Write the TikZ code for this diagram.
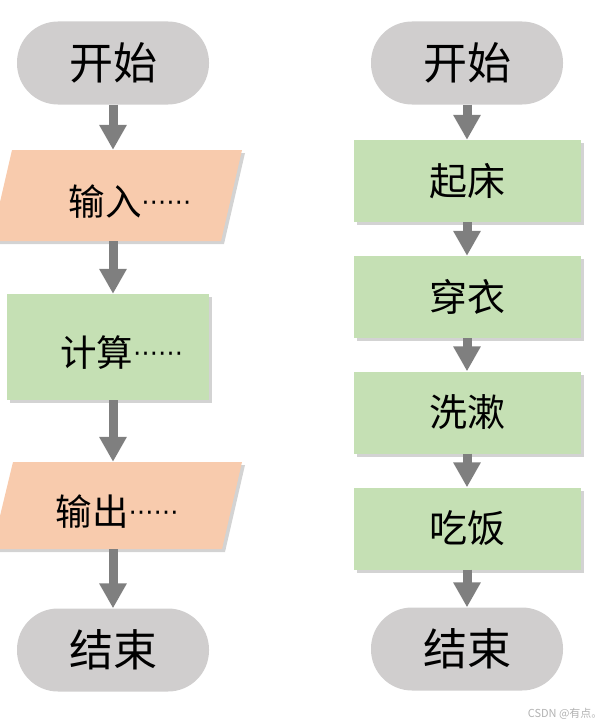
\documentclass[tikz,border=0pt]{standalone}
\usepackage{fontspec}
\setmainfont{Noto Sans CJK SC}
\newfontfamily\dotfont{DejaVu Sans}
\usetikzlibrary{arrows.meta,shadows}
\definecolor{termgray}{HTML}{D0CECE}
\definecolor{iorange}{HTML}{F8CBAD}
\definecolor{pgreen}{HTML}{C5E0B4}
\definecolor{arrgray}{HTML}{7F7F7F}
\newcommand{\dotsz}{\raisebox{5pt}{\dotfont\fontsize{25}{25}\selectfont ⋯⋯}}
\newcommand{\lowtxt}[1]{\raisebox{-6pt}[\height][\depth]{#1}}
\tikzset{
  term/.style={rectangle, rounded corners=41pt, fill=termgray, minimum width=192pt, minimum height=83pt, inner sep=0pt, font=\fontsize{44}{44}\selectfont},
  procbox/.style={rectangle, fill=pgreen, inner sep=0pt, drop shadow={opacity=0.35, shadow xshift=3pt, shadow yshift=-3pt}},
  iofill/.style={fill=iorange, drop shadow={opacity=0.35, shadow xshift=3pt, shadow yshift=-3pt}},
  iotext/.style={rectangle, inner sep=0pt, minimum width=200pt, font=\fontsize{36.5}{36.5}\selectfont},
  flowarrow/.style={draw=arrgray, line width=9pt, -{Triangle[width=26pt,length=25pt]}}
}
\begin{document}
\begin{tikzpicture}[x=1pt,y=-1pt]
\useasboundingbox (0,0) rectangle (614,725);
% left column
\node[term] (ls) at (113,63) {开始};
\path[iofill] (12,150) -- (242,150) -- (221,241) -- (-9,241) -- cycle;
\node[iotext, minimum height=91pt] (lin) at (116.5,195.5) {\lowtxt{\hspace*{27pt}输入\dotsz}};
\node[procbox, minimum width=202pt, minimum height=106pt, font=\fontsize{36.5}{36.5}\selectfont] (lcalc) at (108,347) {\lowtxt{\hspace*{27pt}计算\dotsz}};
\path[iofill] (13,462) -- (242,462) -- (222,549) -- (-8,549) -- cycle;
\node[iotext, minimum height=87pt] (lout) at (117,505.5) {\lowtxt{输出\dotsz}};
\node[term] (le) at (113,650) {结束};
\draw[flowarrow] (ls.south) -- (ls.south |- lin.north);
\draw[flowarrow] (ls.south |- lin.south) -- (ls.south |- lcalc.north);
\draw[flowarrow] (ls.south |- lcalc.south) -- (ls.south |- lout.north);
\draw[flowarrow] (ls.south |- lout.south) -- (le.north);
% right column
\node[term] (rs) at (467,63) {开始};
\node[procbox, minimum width=227pt, minimum height=82pt, font=\fontsize{38}{38}\selectfont] (r1) at (467.5,181) {起床};
\node[procbox, minimum width=227pt, minimum height=82pt, font=\fontsize{38}{38}\selectfont] (r2) at (467.5,297) {穿衣};
\node[procbox, minimum width=227pt, minimum height=82pt, font=\fontsize{38}{38}\selectfont] (r3) at (467.5,412.5) {洗漱};
\node[procbox, minimum width=227pt, minimum height=82pt, font=\fontsize{38}{38}\selectfont] (r4) at (467.5,528.5) {吃饭};
\node[term] (re) at (467,649) {结束};
\draw[flowarrow] (rs.south) -- (rs.south |- r1.north);
\draw[flowarrow] (rs.south |- r1.south) -- (rs.south |- r2.north);
\draw[flowarrow] (rs.south |- r2.south) -- (rs.south |- r3.north);
\draw[flowarrow] (rs.south |- r3.south) -- (rs.south |- r4.north);
\draw[flowarrow] (rs.south |- r4.south) -- (re.north);
% watermark
\node[text=black!30, font=\fontsize{11}{11}\selectfont, anchor=east] (wm) at (606,714) {CSDN @有点。};
\end{tikzpicture}
\end{document}
